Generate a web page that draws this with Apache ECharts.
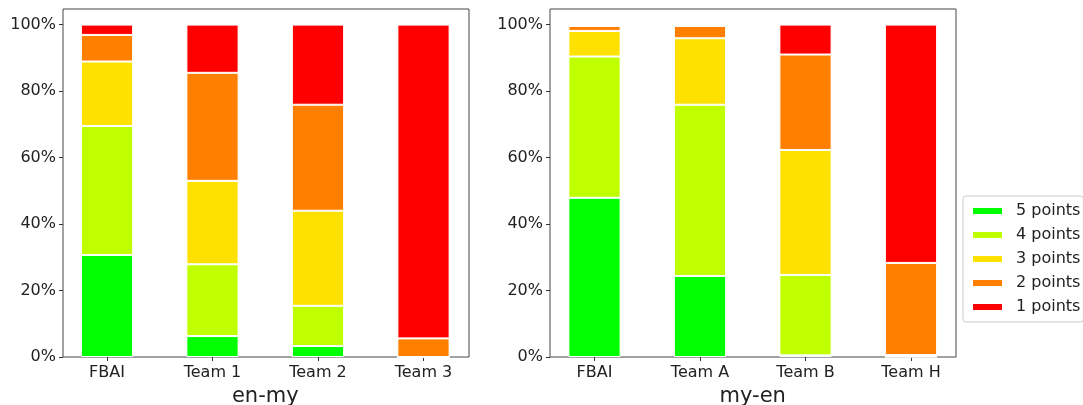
<!DOCTYPE html>
<html><head><meta charset="utf-8">
<script src="https://cdn.jsdelivr.net/npm/echarts@6/dist/echarts.min.js"></script>
<style>html,body{margin:0;padding:0;background:#fff}#c{width:1083px;height:405px}</style>
</head><body><div id="c"></div>
<script>
const seriesNames = ['5 points', '4 points', '3 points', '2 points', '1 points'];
const colors = ['#00ff00', '#c0ff00', '#ffe100', '#ff7f00', '#ff0000'];
const catsLeft = ['FBAI', 'Team 1', 'Team 2', 'Team 3'];
const catsRight = ['FBAI', 'Team A', 'Team B', 'Team H'];
const yTicks = [0, 20, 40, 60, 80, 100];
// percentages, per score level, per system
const enMy5 = [30.7, 6.3, 3.3, 0];
const enMy4 = [38.8, 21.6, 12.1, 0];
const enMy3 = [19.4, 25.1, 28.6, 0];
const enMy2 = [8.0, 32.5, 31.9, 5.6];
const enMy1 = [3.1, 14.5, 24.1, 94.4];
const myEn5 = [47.9, 24.4, 0.5, 0];
const myEn4 = [42.5, 51.5, 24.2, 0.6];
const myEn3 = [7.7, 20.0, 37.6, 0];
const myEn2 = [1.5, 3.7, 28.7, 27.7];
const myEn1 = [0, 0, 9.0, 71.7];

const leftData = [enMy5, enMy4, enMy3, enMy2, enMy1];
const rightData = [myEn5, myEn4, myEn3, myEn2, myEn1];
const FONT = 'DejaVu Sans';
const YMAX = 104.7;

function frameY(idx) {
  return {
    type: 'value', gridIndex: idx, min: 0, max: YMAX,
    axisLine: {show: false}, splitLine: {show: false},
    axisLabel: {fontFamily: FONT, fontSize: 16, color: '#222', margin: 7,
      customValues: yTicks, formatter: v => v + '%'},
    axisTick: {show: true, length: 4, lineStyle: {color: '#333'}, customValues: yTicks}
  };
}
function frameX(idx) {
  return {type: 'value', gridIndex: idx, min: 0, max: 1, show: false, splitLine: {show: false}};
}
function dataY(idx) {
  return {type: 'value', gridIndex: idx, min: 0, max: YMAX, show: false, splitLine: {show: false}};
}
function dataX(idx, cats, name) {
  return {
    type: 'category', gridIndex: idx, data: cats,
    axisLine: {show: false},
    axisTick: {show: true, alignWithLabel: true, length: 4, lineStyle: {color: '#333'}},
    axisLabel: {fontFamily: FONT, fontSize: 16, color: '#222', margin: 8},
    name: name, nameLocation: 'middle', nameGap: 22,
    nameTextStyle: {fontFamily: FONT, fontSize: 21, color: '#222'}
  };
}
const series = [];
[leftData, rightData].forEach((set, g) => {
  set.forEach((arr, i) => {
    series.push({
      name: seriesNames[i], type: 'bar', stack: 'g' + g,
      xAxisIndex: 1 + 2 * g, yAxisIndex: 1 + 2 * g, barWidth: '49.5%',
      itemStyle: {color: colors[i], borderColor: '#ffffff', borderWidth: 1},
      data: arr
    });
  });
});
const gbase = {top: 9, height: 348, containLabel: false, outerBoundsMode: 'none', backgroundColor: 'transparent'};
const chart = echarts.init(document.getElementById('c'), null, {renderer: 'canvas'});
chart.setOption({
  animation: false,
  grid: [
    Object.assign({left: 63, width: 406, show: true, borderColor: '#444', borderWidth: 1}, gbase),
    Object.assign({left: 54.25, width: 422, show: false}, gbase),
    Object.assign({left: 550, width: 406, show: true, borderColor: '#444', borderWidth: 1}, gbase),
    Object.assign({left: 541.75, width: 422, show: false}, gbase)
  ],
  xAxis: [frameX(0), dataX(1, catsLeft, 'en-my'), frameX(2), dataX(3, catsRight, 'my-en')],
  yAxis: [frameY(0), dataY(1), frameY(2), dataY(3)],
  legend: {
    data: seriesNames, orient: 'vertical', left: 963, top: 196,
    itemWidth: 31, itemHeight: 8, itemGap: 8,
    padding: [7, 3, 7, 8],
    borderColor: '#ccc', borderWidth: 1, borderRadius: 3,
    icon: 'rect',
    textStyle: {fontFamily: FONT, fontSize: 16, color: '#222', padding: [0, 0, 0, 8]}
  },
  series: series
});
</script></body></html>
